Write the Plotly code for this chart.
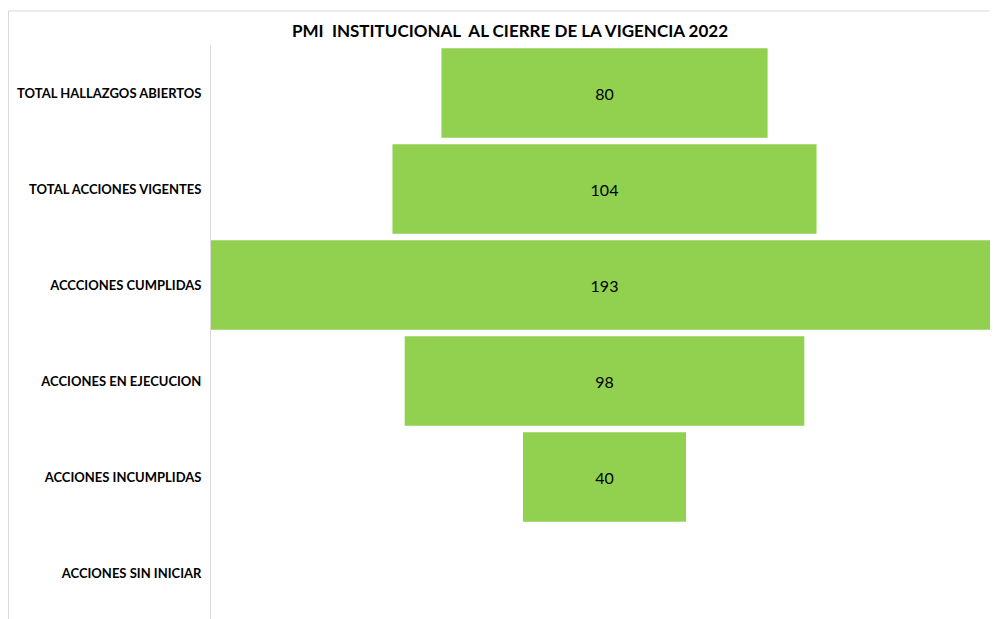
import plotly.graph_objects as go

categories = ["TOTAL HALLAZGOS ABIERTOS", "TOTAL ACCIONES VIGENTES", "ACCCIONES CUMPLIDAS",
              "ACCIONES EN EJECUCION", "ACCIONES INCUMPLIDAS", "ACCIONES SIN INICIAR"]
values = [80, 104, 193, 98, 40, 0]
title = "PMI  INSTITUCIONAL  AL CIERRE DE LA VIGENCIA 2022"

# page body has an 8px default margin on every side
OX, OY = 8, 8
W, H = 998 - OX, 619 - OY
L, R, T, B = 211 - OX, 0, 45 - OY, 0
ROW = 96.0
plot_h = H - T - B
y_bottom = -0.5 + plot_h / ROW

fig = go.Figure(go.Funnel(
    y=categories, x=values,
    marker=dict(color="#92D050"),
    connector=dict(visible=False),
    textinfo="value",
    textposition="inside",
    insidetextanchor="middle",
    textfont=dict(color="#000000", size=16, family="Lato"),
    texttemplate=["%{x}" if v > 0 else "" for v in values],
    width=0.93,
    cliponaxis=False,
))

def px_to_paper_x(px):
    return (px - OX - L) / (W - L - R)

def px_to_paper_y(py):
    return 1 - (py - OY - T) / plot_h

fig.update_layout(
    width=W, height=H,
    margin=dict(l=L, r=R, t=T, b=B),
    paper_bgcolor="white", plot_bgcolor="white",
    showlegend=False,
    font=dict(family="Lato", color="#000000"),
    xaxis=dict(visible=False, range=[-96.5, 96.5], fixedrange=True),
    yaxis=dict(showline=True, linecolor="#d9d9d9", linewidth=1, showgrid=False,
               tickfont=dict(size=13, family="Lato", color="#000000", weight="bold"),
               ticks="", ticklabelstandoff=6, range=[y_bottom, -0.5], autorange=False),
    annotations=[dict(text="<b>" + title + "</b>", xref="paper", yref="paper",
                      x=px_to_paper_x(510), y=px_to_paper_y(30), xanchor="center", yanchor="middle",
                      showarrow=False, font=dict(size=17, family="Lato", color="#000000"))],
    shapes=[
        dict(type="line", xref="paper", yref="paper",
             x0=px_to_paper_x(8.5), x1=px_to_paper_x(998), y0=px_to_paper_y(11), y1=px_to_paper_y(11),
             line=dict(color="#d9d9d9", width=1)),
        dict(type="line", xref="paper", yref="paper",
             x0=px_to_paper_x(8.5), x1=px_to_paper_x(8.5), y0=px_to_paper_y(11), y1=px_to_paper_y(619),
             line=dict(color="#d9d9d9", width=1)),
    ],
)

fig.write_html("out.html")
